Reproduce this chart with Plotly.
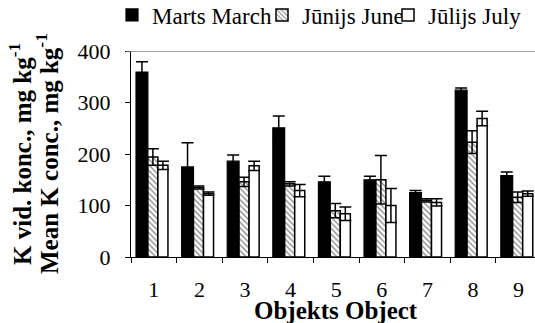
import plotly.graph_objects as go

objects = [1, 2, 3, 4, 5, 6, 7, 8, 9]
tick_labels = ["1", "2", "3", "4", "5", "6", "7", "8", "9"]

march = [359, 175, 186, 251, 146, 150, 125, 324, 158]
march_err = [20, 47, 12, 23, 11, 7, 4, 4, 7]
june = [194, 135, 146, 142, 90, 150, 110, 223, 116]
june_err = [16, 3, 9, 4, 14, 47, 3, 22, 10]
july = [178, 123, 177, 129, 84, 100, 106, 269, 123]
july_err = [8, 3, 9, 12, 13, 33, 7, 14, 5]

series_names = ["Marts March", "Jūnijs June", "Jūlijs July"]
ytitle_lines = ["K vid. konc., mg kg<sup>-1</sup>", "Mean K conc., mg kg<sup>-1</sup>"]
xtitle = "Objekts Object"

FONT = "Times New Roman, Liberation Serif, Tinos, serif"
L, R, T, B = 131, 0, 51, 66
W, H = 535, 323
pw = W - L - R
ph = H - T - B
cat_px = 45.6
xmax = 0.5 + pw / cat_px

def err(v):
    return dict(type="data", array=v, visible=True, color="black", thickness=1.5, width=6)

fig = go.Figure()
fig.add_trace(go.Bar(
    x=objects, y=march, name=series_names[0], legend="legend",
    offset=-0.39, width=0.26,
    marker=dict(color="black", line=dict(color="black", width=1.2)),
    error_y=err(march_err),
))
fig.add_trace(go.Bar(
    x=objects, y=june, name=series_names[1], legend="legend2",
    offset=-0.13, width=0.22,
    marker=dict(color="white", line=dict(color="black", width=1.5),
                pattern=dict(shape="\\", fgcolor="black", bgcolor="white", size=4, solidity=0.3)),
    error_y=err(june_err),
))
fig.add_trace(go.Bar(
    x=objects, y=july, name=series_names[2], legend="legend3",
    offset=0.09, width=0.22,
    marker=dict(color="white", line=dict(color="black", width=1.5)),
    error_y=err(july_err),
))

def lx(px):
    return (px - L) / pw

legfont = dict(family=FONT, size=23, color="black")
common = dict(orientation="h", xref="container", yref="container",
              yanchor="middle", y=1 - 15 / H, xanchor="left",
              font=legfont, bgcolor="rgba(0,0,0,0)", borderwidth=0, itemwidth=30)

fig.update_layout(
    width=W, height=H,
    margin=dict(l=L, r=R, t=T, b=B, autoexpand=False),
    paper_bgcolor="white", plot_bgcolor="white",
    barmode="overlay",
    hovermode=False,
    font=dict(family=FONT, size=22, color="black"),
    showlegend=True,
    legend=dict(x=112 / W, **common),
    legend2=dict(x=262 / W, **common),
    legend3=dict(x=388 / W, **common),
    xaxis=dict(
        range=[0.5, xmax], tickmode="array", tickvals=objects, ticktext=tick_labels,
        ticks="", showline=True, linecolor="black", linewidth=1, showgrid=False, zeroline=False,
        tickfont=dict(family=FONT, size=22, color="black"), ticklabelstandoff=13,
        minor=dict(tickmode="array", tickvals=[i + 0.5 for i in range(0, 10)], ticks="outside",
                   ticklen=5, tickwidth=1, tickcolor="black", showgrid=False),
    ),
    yaxis=dict(
        range=[0, 400], tickmode="array", tickvals=[0, 100, 200, 300, 400],
        ticks="outside", ticklen=5, tickwidth=1, tickcolor="black",
        showline=True, linecolor="black", linewidth=1, showgrid=False, zeroline=False,
        tickfont=dict(family=FONT, size=22, color="black"), ticklabelstandoff=10,
    ),
    shapes=[dict(type="line", xref="paper", yref="y", x0=-5 / pw, x1=1, y0=400, y1=400,
                 line=dict(color="#808080", width=1.5))],
    annotations=[
        dict(text="<b>" + ytitle_lines[0] + "</b>",
             xref="paper", yref="paper", x=lx(20), y=0.5, textangle=-90,
             xanchor="center", yanchor="middle", showarrow=False,
             font=dict(family=FONT, size=25, color="black")),
        dict(text="<b>" + ytitle_lines[1] + "</b>",
             xref="paper", yref="paper", x=lx(47), y=0.5, textangle=-90,
             xanchor="center", yanchor="middle", showarrow=False,
             font=dict(family=FONT, size=25, color="black")),
        dict(text="<b>" + xtitle + "</b>", xref="x", yref="paper", x=5,
             y=-(H + 3 - (H - B)) / ph, xanchor="center", yanchor="bottom",
             showarrow=False, font=dict(family=FONT, size=25, color="black")),
    ],
)

fig.write_html("out.html", config={"displayModeBar": False, "staticPlot": True},
               post_script="document.body.style.margin='0px';")
